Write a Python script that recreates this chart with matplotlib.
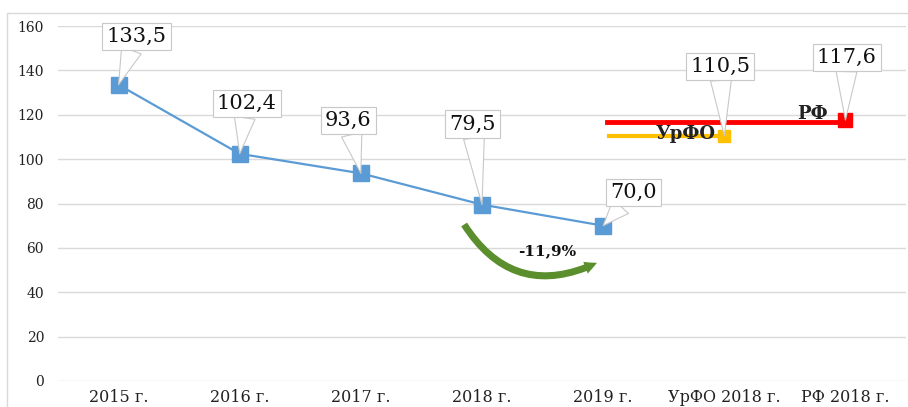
import matplotlib.pyplot as plt
from matplotlib.patches import FancyArrowPatch, Rectangle

# Data
categories = ['2015 г.', '2016 г.', '2017 г.', '2018 г.', '2019 г.', 'УрФО 2018 г.', 'РФ 2018 г.']
years_values = [133.5, 102.4, 93.6, 79.5, 70.0]
urfo_value = 110.5
rf_value = 117.6
change_label = '-11,9%'

# label offsets (points) for the callouts
offsets = [(13, 35), (5, 36), (-9, 38), (-7, 58), (22, 24)]

plt.rcParams['font.family'] = ['DejaVu Serif']

fig = plt.figure(figsize=(9.08, 4.07), dpi=100)
ax = fig.add_axes([58 / 908, 26 / 407, 848 / 908, 355 / 407])

# outer chart frame
fig.patches.append(Rectangle((7 / 908, -0.1), 1.2, 1 - 13 / 407 + 0.1, transform=fig.transFigure,
                             fill=False, ec='#d9d9d9', lw=1.0))

xs = list(range(len(years_values)))
ax.plot(xs, years_values, color='#5b9bd5', lw=1.6, marker='s', ms=11, zorder=3)

# benchmark lines
i_urfo = categories.index('УрФО 2018 г.')
i_rf = categories.index('РФ 2018 г.')
ax.plot([xs[-1] + 0.05, i_urfo], [urfo_value, urfo_value], color='#ffc000', lw=3, zorder=2)
ax.plot([i_urfo], [urfo_value], marker='s', ms=9, color='#ffc000', zorder=3)
ax.plot([xs[-1] + 0.03, i_rf], [rf_value - 0.9, rf_value - 0.9], color='#ff0000', lw=3.5, zorder=2)
ax.plot([i_rf], [rf_value], marker='s', ms=10, color='#ff0000', zorder=3)

ax.text(i_urfo - 0.07, urfo_value + 1.0, 'УрФО', ha='right', va='center', fontsize=13,
        fontweight='bold', color='#222222', zorder=4)
ax.text(i_rf - 0.15, rf_value + 2.8, 'РФ', ha='right', va='center', fontsize=13,
        fontweight='bold', color='#222222', zorder=4)


def callout(x, y, off):
    ax.annotate(f'{y:.1f}'.replace('.', ','), xy=(x, y), xytext=off, textcoords='offset points',
                ha='center', va='center', fontsize=15, color='#111111',
                bbox=dict(boxstyle='square,pad=0.2', fc='white', ec='#c8c8c8', lw=0.8),
                arrowprops=dict(arrowstyle='wedge,tail_width=1.0', fc='white', ec='#c8c8c8',
                                lw=0.8, shrinkA=0, shrinkB=0),
                zorder=5)


for x, v, off in zip(xs, years_values, offsets):
    callout(x, v, off)
callout(i_urfo, urfo_value, (-3, 50))
callout(i_rf, rf_value, (1, 45))

# green curved arrow
arrow = FancyArrowPatch((2.84, 71.6), (3.97, 53.8), connectionstyle='arc3,rad=0.45',
                        arrowstyle='simple,head_width=9,head_length=9,tail_width=5',
                        color='#5b8f2e', lw=0, zorder=4)
ax.add_patch(arrow)
ax.text(3.54, 58.6, change_label, ha='center', va='center', fontsize=11, fontweight='bold',
        color='#111111', zorder=5)

ax.set_xlim(-0.5, len(categories) - 0.5)
ax.set_ylim(0, 160)
ax.set_yticks(range(0, 161, 20))
ax.set_xticks(range(len(categories)))
ax.set_xticklabels(categories, fontsize=11.5)
ax.tick_params(axis='y', labelsize=10, length=0, pad=10, colors='#222222')
ax.tick_params(axis='x', length=0, pad=6, colors='#222222')
ax.grid(axis='y', color='#d9d9d9', lw=1)
ax.set_axisbelow(True)
for s in ax.spines.values():
    s.set_visible(False)

fig.savefig('out.png', dpi=100)
